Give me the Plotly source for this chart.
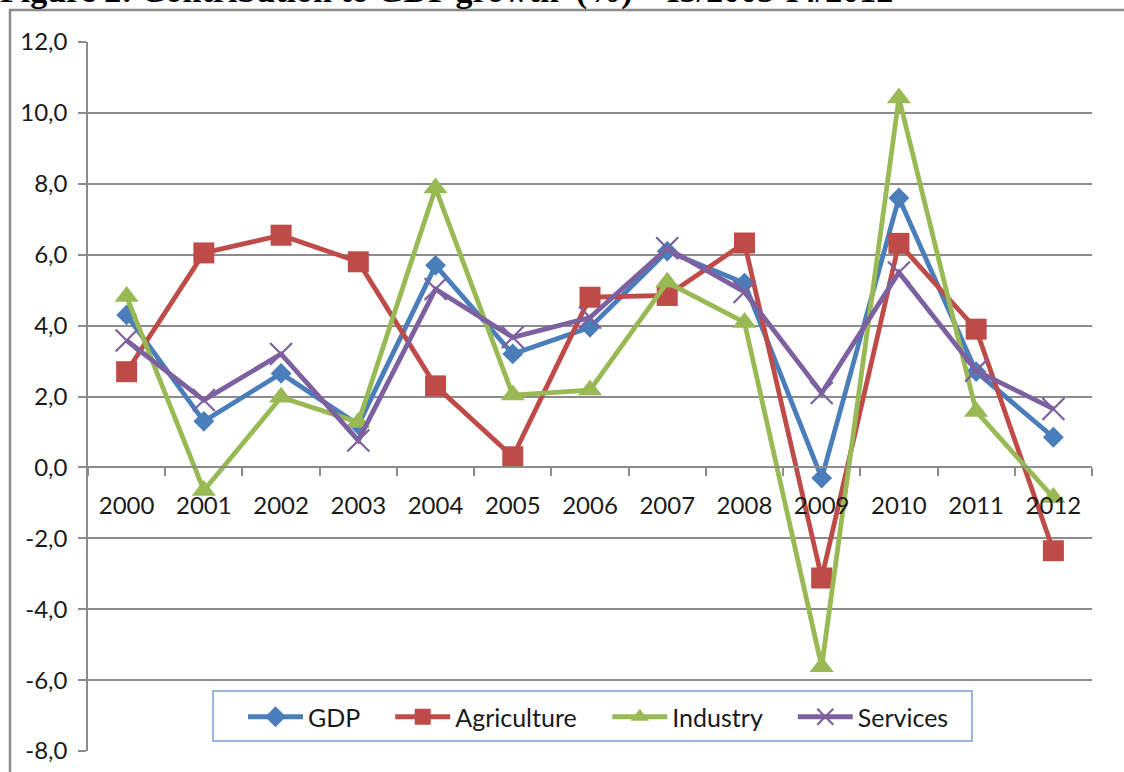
import plotly.graph_objects as go

# ---- data ----
years = ["2000", "2001", "2002", "2003", "2004", "2005", "2006",
         "2007", "2008", "2009", "2010", "2011", "2012"]
gdp = [4.3, 1.3, 2.65, 1.2, 5.7, 3.2, 3.95, 6.1, 5.2, -0.3, 7.6, 2.7, 0.85]
agriculture = [2.7, 6.05, 6.55, 5.8, 2.3, 0.3, 4.8, 4.85, 6.33, -3.12, 6.32, 3.9, -2.35]
industry = [4.82, -0.65, 1.98, 1.27, 7.88, 2.04, 2.18, 5.22, 4.09, -5.62, 10.42, 1.58, -0.85]
services = [3.58, 1.9, 3.2, 0.76, 5.03, 3.67, 4.23, 6.18, 4.95, 2.1, 5.5, 2.73, 1.65]

series_names = ["GDP", "Agriculture", "Industry", "Services"]
ytick_vals = [-8, -6, -4, -2, 0, 2, 4, 6, 8, 10, 12]
ytick_text = ["-8,0", "-6,0", "-4,0", "-2,0", "0,0", "2,0", "4,0",
              "6,0", "8,0", "10,0", "12,0"]
title_text = "Figure 2: Contribution to GDP growth  (%) – I3/2005-I4/2012"

# ---- layout geometry (pixels) ----
W, H = 1124, 772
L, R, T, B = 88, 1092, 42, 751


def px_x(p):
    return (p - L) / (R - L)


def px_y(p):
    return (B - p) / (B - T)


colors = ["#4A7EBB", "#BE4B48", "#98B954", "#7D60A0"]
symbols = ["diamond", "square", "triangle-up", "x-thin"]
sizes = [16, 21, 21, 22]
values = [gdp, agriculture, industry, services]
pad = "\u00a0" * 4

fig = go.Figure()
for name, vals, c, s, sz in zip(series_names, values, colors, symbols, sizes):
    marker = dict(symbol=s, size=sz, color=c)
    if s == "x-thin":
        marker["line"] = dict(color=c, width=2.2)
    fig.add_trace(go.Scatter(
        x=years, y=vals, name=name + pad, mode="lines+markers",
        line=dict(color=c, width=4.8),
        marker=marker,
    ))

grid = "#8C8C8C"
font_family = "Lato, 'Liberation Sans', sans-serif"

fig.update_layout(
    width=W, height=H,
    margin=dict(l=L, r=W - R, t=T, b=H - B, pad=0),
    paper_bgcolor="white", plot_bgcolor="white",
    font=dict(family=font_family, size=24, color="#1a1a1a"),
    showlegend=True,
    legend=dict(
        orientation="h", x=px_x(243), xanchor="left",
        y=px_y(717), yanchor="middle",
        bgcolor="rgba(0,0,0,0)", borderwidth=0,
        font=dict(family=font_family, size=25, color="#1a1a1a"),
        itemwidth=55,
    ),
    xaxis=dict(
        type="category", range=[-0.5, 12.5],
        anchor="free", position=(0 - (-8)) / 20,
        showline=True, linecolor=grid, linewidth=1.5,
        ticks="outside", tickson="boundaries", ticklen=8,
        tickcolor=grid, tickwidth=1.5,
        showgrid=False, zeroline=False, automargin=False,
        ticklabelstandoff=17,
        tickfont=dict(family=font_family, size=24, color="#1a1a1a"),
    ),
    yaxis=dict(
        range=[-8, 12], tickvals=ytick_vals, ticktext=ytick_text,
        showline=True, linecolor=grid, linewidth=1.5,
        ticks="outside", ticklen=8, tickcolor=grid, tickwidth=1.5,
        showgrid=True, gridcolor=grid, gridwidth=1.5,
        zeroline=False, automargin=False,
        ticklabelstandoff=6,
        tickfont=dict(family=font_family, size=24, color="#1a1a1a"),
    ),
    shapes=[
        # outer frame (left and top edges)
        dict(type="path", xref="paper", yref="paper",
             path=f"M {px_x(10)} {px_y(775)} L {px_x(10)} {px_y(10)} L {px_x(1130)} {px_y(10)}",
             line=dict(color="#8C8C8C", width=2.5)),
        # legend box
        dict(type="rect", xref="paper", yref="paper",
             x0=px_x(213), x1=px_x(972), y0=px_y(741), y1=px_y(691),
             line=dict(color="#7F9FD3", width=1.5), fillcolor="white",
             layer="below"),
    ],
    annotations=[
        dict(text="<b>" + title_text + "</b>", xref="paper", yref="paper",
             x=px_x(-2), xanchor="left", y=px_y(12), yanchor="bottom",
             showarrow=False,
             font=dict(family="'Liberation Serif', serif", size=34, color="black")),
    ],
)

fig.write_html("out.html", config={"displayModeBar": False},
               post_script="document.body.style.margin='0';")
